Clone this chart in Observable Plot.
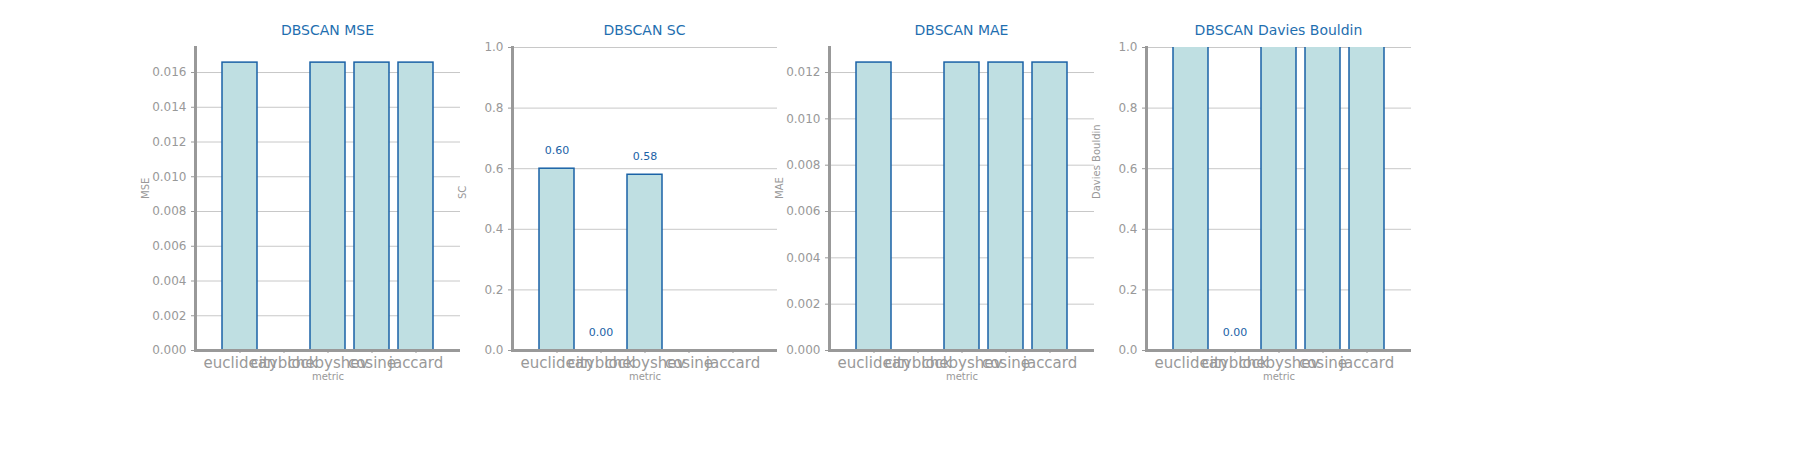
<!DOCTYPE html>
<html><head>
<script src="https://cdn.jsdelivr.net/npm/d3@7"></script>
<script src="https://cdn.jsdelivr.net/npm/@observablehq/plot@0.6"></script>
<style>
body{margin:0;width:1800px;height:450px;background:#fff;font-family:"DejaVu Sans",sans-serif;position:relative;overflow:hidden}
.t{position:absolute;top:22px;width:265px;text-align:center;color:#1f6fb0;font-size:14px}
.p{position:absolute;top:40px}
</style></head><body>
<script>
const metrics = ["euclidean","cityblock","chebyshev","cosine","jaccard"];
const mse = [0.01657, null, 0.01657, 0.01657, 0.01657];
const sc = [0.60, 0.00, 0.58, null, null];
const mae = [0.01243, null, 0.01243, 0.01243, 0.01243];
const db = [1.5, 0.00, 1.5, 1.5, 1.5];
const panels = [
  {title:"DBSCAN MSE", ylabel:"MSE", vals:mse, domain:[0,0.01744], ticks:d3.range(0,0.0161,0.002), fmt:".3f", labels:false},
  {title:"DBSCAN SC", ylabel:"SC", vals:sc, domain:[0,1], ticks:d3.range(0,1.01,0.2), fmt:".1f", labels:true},
  {title:"DBSCAN MAE", ylabel:"MAE", vals:mae, domain:[0,0.01308], ticks:d3.range(0,0.0121,0.002), fmt:".3f", labels:false},
  {title:"DBSCAN Davies Bouldin", ylabel:"Davies Bouldin", vals:db, domain:[0,1], ticks:d3.range(0,1.01,0.2), fmt:".1f", labels:true}
];
const lefts=[195,512,829,1146];
panels.forEach((p,i)=>{
  const data = metrics.map((m,j)=>({m, v:p.vals[j]})).filter(d=>d.v!=null);
  const marks = [
    Plot.gridY(p.ticks,{stroke:"#c8c8c8",strokeOpacity:1}),
    Plot.barY(data,{x:"m",y:"v",fill:"#bfdfe2",stroke:"#1a62a6",strokeWidth:1.5,clip:true}),
    Plot.axisY(p.ticks,{tickFormat:d3.format(p.fmt),stroke:"#999",fill:"#999",fontSize:12,tickSize:4,label:null}),
    Plot.axisX({stroke:"#999",fill:"#999",fontSize:15,tickSize:3,label:null,tickPadding:4}),
    Plot.frame({anchor:"left",stroke:"#999",strokeWidth:3}),
    Plot.ruleY([0],{stroke:"#999",strokeWidth:3}),
    Plot.text(["metric"],{frameAnchor:"bottom",dy:29,fill:"#999",fontSize:10}),
    Plot.text([p.ylabel],{frameAnchor:"left",dx:-50,rotate:-90,fill:"#999",fontSize:10})
  ];
  if(p.labels) marks.push(Plot.text(data.filter(d=>d.v<=p.domain[1]),{x:"m",y:"v",text:d=>d.v.toFixed(2),dy:-18,fill:"#1a62a6",fontSize:11}));
  const svg = Plot.plot({
    width:320,height:370,marginLeft:55,marginRight:0,marginTop:7,marginBottom:60,
    style:{fontFamily:"DejaVu Sans",overflow:"visible",background:"transparent"},
    x:{domain:metrics,type:"band",paddingInner:0.2,paddingOuter:0.56},
    y:{domain:p.domain},
    marks
  });
  const wrap=document.createElement("div");wrap.className="p";wrap.style.left=(lefts[i]-55)+"px";wrap.appendChild(svg);document.body.appendChild(wrap);
  const t=document.createElement("div");t.className="t";t.style.left=lefts[i]+"px";t.textContent=p.title;document.body.appendChild(t);
});
</script>
</body></html>
